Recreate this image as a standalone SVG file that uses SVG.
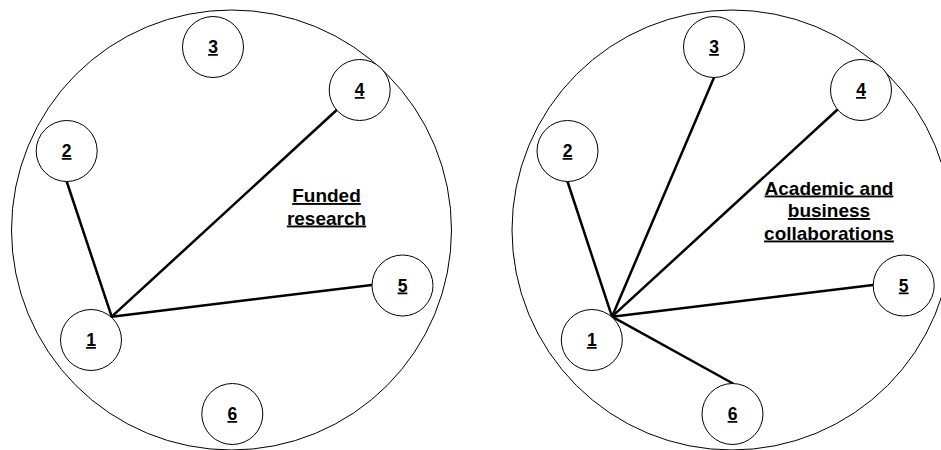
<svg xmlns="http://www.w3.org/2000/svg" width="941" height="450" viewBox="0 0 941 450">
<style>
.big{fill:none;stroke:#000;stroke-width:1}
.node circle{fill:#fff;stroke:#000;stroke-width:1}
.num{font-family:"Liberation Sans",Arial,sans-serif;font-weight:bold;font-size:17.5px;text-anchor:middle;text-decoration:underline;fill:#000}
.lbl{font-family:"Liberation Sans",Arial,sans-serif;font-weight:bold;font-size:19px;text-anchor:middle;text-decoration:underline;fill:#000}
.conn line{stroke:#000;stroke-width:2.5;stroke-linecap:round}
</style>
<rect width="941" height="450" fill="#fff"/>
<g id="left-panel">
<circle class="big" cx="231.5" cy="230" r="220"/>
<text class="lbl" x="326.5" y="202">Funded</text>
<text class="lbl" x="326.5" y="224.5">research</text>
</g>
<g id="right-panel">
<circle class="big" cx="732" cy="230" r="220"/>
<text class="lbl" x="829" y="194.5">Academic and</text>
<text class="lbl" x="829" y="217">business</text>
<text class="lbl" x="829" y="239.5">collaborations</text>
</g>
<g id="connectors" class="conn">
<line x1="111.7" y1="316.7" x2="66.7" y2="181.5"/>
<line x1="111.7" y1="316.7" x2="336.7" y2="110"/>
<line x1="111.7" y1="316.7" x2="371.7" y2="285"/>
<line x1="612" y1="316.7" x2="567.5" y2="181.5"/>
<line x1="612" y1="316.7" x2="714" y2="77.5"/>
<line x1="612" y1="316.7" x2="837" y2="110"/>
<line x1="612" y1="316.7" x2="873" y2="285"/>
<line x1="612" y1="316.7" x2="733" y2="383.5"/>
</g>
<g id="L1" class="node"><circle cx="91" cy="340" r="30.5"/><text class="num" x="91" y="346">1</text></g>
<g id="L2" class="node"><circle cx="66.7" cy="151" r="30.5"/><text class="num" x="66.7" y="157">2</text></g>
<g id="L3" class="node"><circle cx="213" cy="47" r="30.5"/><text class="num" x="213" y="53">3</text></g>
<g id="L4" class="node"><circle cx="359.7" cy="90" r="30.5"/><text class="num" x="359.7" y="96">4</text></g>
<g id="L5" class="node"><circle cx="402.5" cy="285.5" r="30.5"/><text class="num" x="402.5" y="291.5">5</text></g>
<g id="L6" class="node"><circle cx="232.3" cy="414" r="30.5"/><text class="num" x="232.3" y="420">6</text></g>
<g id="R1" class="node"><circle cx="591.8" cy="340" r="30.5"/><text class="num" x="591.8" y="346">1</text></g>
<g id="R2" class="node"><circle cx="567.5" cy="151" r="30.5"/><text class="num" x="567.5" y="157">2</text></g>
<g id="R3" class="node"><circle cx="714" cy="47" r="30.5"/><text class="num" x="714" y="53">3</text></g>
<g id="R4" class="node"><circle cx="861" cy="90" r="30.5"/><text class="num" x="861" y="96">4</text></g>
<g id="R5" class="node"><circle cx="903.7" cy="285.5" r="30.5"/><text class="num" x="903.7" y="291.5">5</text></g>
<g id="R6" class="node"><circle cx="732.5" cy="414" r="30.5"/><text class="num" x="732.5" y="420">6</text></g>
</svg>
